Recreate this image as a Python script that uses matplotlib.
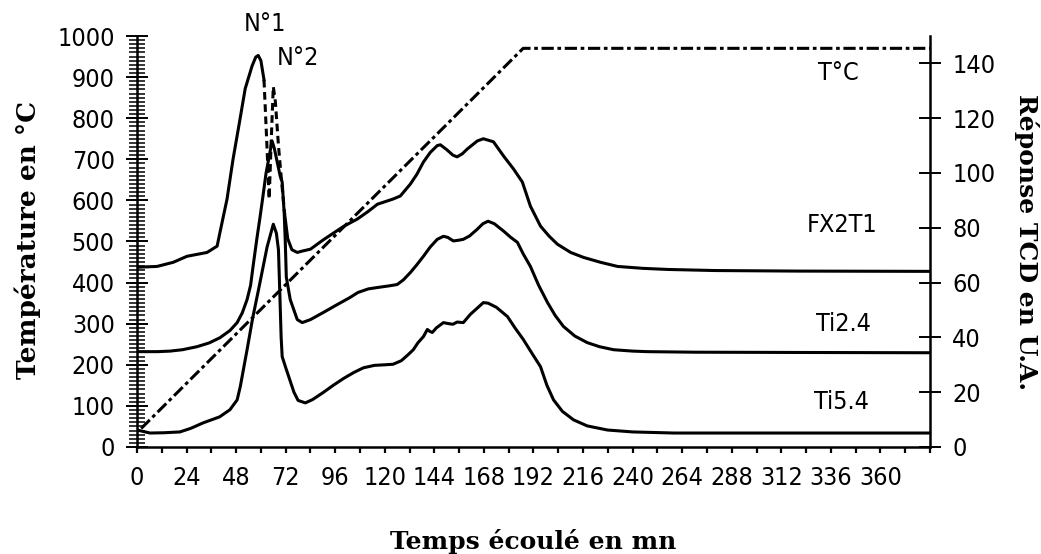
import matplotlib
matplotlib.use('Agg')
import matplotlib.pyplot as plt
from matplotlib.ticker import MultipleLocator
import numpy as np

plt.rcParams['font.family'] = ['DejaVu Sans']
plt.rcParams['font.stretch'] = 'condensed'

# ---------------- data ----------------
time_ticks = list(range(0, 361, 24))
left_ticks = list(range(0, 1001, 100))
right_ticks = list(range(0, 141, 20))

# temperature programme (left axis, °C)
temp_time = [2, 187, 384]
temp_val = [45, 970, 970]

# TCD responses (right axis, U.A.)
fx_t = [0, 9.7, 17.5, 24.2, 33.9, 38.8, 40.2, 43.6, 46.5, 49.5, 52.4, 55.7, 57.5, 58.7,
        60, 61.5, 62.8, 64, 65, 66, 67, 68.5, 70, 71.5, 73, 75, 77.6, 80, 84, 90, 94,
        100, 106.7, 112, 116.4, 120, 124, 127.5, 132.4, 135.5, 138.7, 142, 145.4,
        146.9, 150, 153, 155, 157.5, 160, 164.8, 167.7, 172.6, 177.5, 182.3, 186.6,
        190.5, 195.4, 199.5, 203.6, 210, 216.2, 224.5, 232.7, 245, 257, 280, 320, 384]
fx_v = [65.6, 65.9, 67.4, 69.6, 71.0, 73.3, 78.4, 90.5, 105, 118, 130.8, 139, 142.3, 142.9,
        141, 134, 112, 90.5, 112, 131.5, 126, 110, 97, 85, 76, 72, 71, 71.5, 72.2, 75.5, 77.5,
        80.5, 83.2, 86, 88.6, 89.5, 90.5, 91.6, 96, 99.5, 104, 107.5, 110,
        110.3, 108.5, 106.5, 105.9, 107, 108.8, 111.7, 112.5, 111.4, 106.2, 101.5, 96.7,
        87.9, 80.6, 77, 74, 71, 69.2, 67.4, 65.9, 65.2, 64.8, 64.4, 64.2, 64.1]

ti24_t = [0, 10, 16, 22, 29, 35, 40.2, 45, 48.5, 51, 53.3, 55, 56.2, 58, 59.6, 61, 62.5,
          64, 65.4, 66.5, 67.9, 69.3, 70.3, 71.3, 71.8, 72.3, 74.2, 77.6, 80, 84, 90, 97,
          103, 107, 112, 116.4, 122, 126, 129, 132.4, 135.5, 138.7, 142, 145.4, 148.4,
          150.5, 153.2, 156, 158, 161, 164.8, 167.5, 170, 173, 177.5, 181, 184.2, 187,
          190.5, 194.5, 198.8, 202.5, 206.5, 212, 218, 224, 230.8, 240, 247, 270, 320, 384]
ti24_v = [34.8, 34.8, 35.0, 35.5, 36.6, 38.0, 39.9, 42.5, 45.4, 49.0, 53.8, 59.0, 65.9, 75.8,
          84.0, 91.6, 100, 106, 111.7, 109, 104, 99, 96.7, 85, 75, 62, 53.8, 46.5, 45.4, 46.5,
          49.0, 52.0, 54.5, 56.4, 57.7, 58.2, 58.8, 59.3, 61.0, 63.7, 66.5, 69.6, 73.0, 75.8,
          76.9, 76.5, 75.2, 75.5, 75.8, 77.0, 79.5, 81.5, 82.4, 81.5, 78.8, 76.5, 74.7, 70.5,
          65.9, 59.0, 52.7, 48.0, 44.0, 40.5, 38.1, 36.6, 35.5, 35.0, 34.8, 34.6, 34.5, 34.4]

ti54_t = [0, 6.3, 13, 20.8, 26, 32, 40, 45, 48.5, 50, 53.3, 56, 59, 63, 66, 67.5, 68.5,
          69.2, 69.8, 70.3, 72, 74, 76, 78, 81.5, 85, 90, 95, 100, 105, 109.6, 115, 120,
          124, 128, 131, 133.8, 136, 138.7, 140.6, 141.8, 143, 145, 148.4, 151, 153, 155,
          158, 161.4, 164.5, 167.7, 170, 174, 179.4, 183, 187.1, 191, 195.4, 198.5, 201.7,
          206, 211.4, 218, 227.8, 240, 260, 384]
ti54_v = [6.2, 5.1, 5.2, 5.5, 6.8, 8.8, 11.0, 13.6, 17.2, 22.0, 35.5, 47.0, 58.0, 73.0, 81.3,
          78.0, 72.0, 55.0, 40.0, 33.0, 29.0, 24.5, 20.0, 17.0, 16.1, 17.3, 19.8, 22.5, 25.0,
          27.2, 28.9, 29.8, 30.0, 30.2, 31.5, 33.5, 35.5, 38.0, 40.3, 42.9, 42.2, 41.8, 43.5,
          45.4, 45.0, 44.8, 45.6, 45.4, 48.4, 50.5, 52.7, 52.5, 51.0, 47.6, 43.5, 39.2, 34.5,
          29.3, 22.5, 17.2, 13.0, 9.9, 7.7, 6.2, 5.5, 5.1, 5.1]

curve_labels = ['T°C', 'FX2T1', 'Ti2.4', 'Ti5.4']
peak_labels = ['N°1', 'N°2']

# ---------------- figure ----------------
W, H = 1041, 554
fig = plt.figure(figsize=(W / 100, H / 100), dpi=100)
x0, x1, y0, y1 = 137, 930, 447, 36
ax = fig.add_axes([x0 / W, 1 - y0 / H, (x1 - x0) / W, (y0 - y1) / H])
ax2 = ax.twinx()

ax.set_xlim(0, 384)
ax.set_ylim(0, 1000)
ax2.set_ylim(0, 150)

# temperature line
ax.plot(temp_time, temp_val, color='black', lw=2.2,
        linestyle=(0, (4, 1.2, 1.2, 1.2)), zorder=3)

# TCD curves
lw = 2.2
fx_t_a = np.array(fx_t)
fx_v_a = np.array(fx_v)
m1 = fx_t_a <= 61.5
m2 = (fx_t_a >= 61.5) & (fx_t_a <= 71.5)
m3 = fx_t_a >= 71.5
ax2.plot(fx_t_a[m1], fx_v_a[m1], color='black', lw=lw)
ax2.plot(fx_t_a[m2], fx_v_a[m2], color='black', lw=lw, linestyle=(0, (2.5, 1.5)))
ax2.plot(fx_t_a[m3], fx_v_a[m3], color='black', lw=lw)
ax2.plot(ti24_t, ti24_v, color='black', lw=lw)
ax2.plot(ti54_t, ti54_v, color='black', lw=lw)

# spines
for a in (ax, ax2):
    a.spines['top'].set_visible(False)
    for s in a.spines.values():
        s.set_linewidth(1.8)
ax.spines['right'].set_visible(False)
ax2.spines['left'].set_visible(False)
ax2.spines['bottom'].set_visible(False)

# ticks
tick_fs = 18
ax.set_yticks(left_ticks)
ax.set_yticklabels([str(v) for v in left_ticks])
ax.yaxis.set_minor_locator(MultipleLocator(10))
ax.tick_params(axis='y', which='major', direction='inout', length=16, width=1.4,
               labelsize=tick_fs, pad=8)
ax.tick_params(axis='y', which='minor', direction='inout', length=12, width=1.1)

ax.set_xticks(time_ticks)
ax.set_xticklabels([str(v) for v in time_ticks])
ax.xaxis.set_minor_locator(MultipleLocator(12))
ax.tick_params(axis='x', which='both', direction='out', length=4, width=1.6,
               labelsize=tick_fs, pad=10)

ax2.set_yticks(right_ticks)
ax2.set_yticklabels([str(v) for v in right_ticks])
ax2.tick_params(axis='y', which='major', direction='inout', length=16, width=1.4,
                labelsize=tick_fs, pad=8)

# axis titles
title_kw = dict(family='DejaVu Serif', weight='bold', stretch='normal')
fig.text(28 / W, 1 - 240 / H, 'Température en °C', rotation=90,
         ha='center', va='center', fontsize=19, **title_kw)
fig.text(1027 / W, 1 - 242 / H, 'Réponse TCD en U.A.', rotation=270,
         ha='center', va='center', fontsize=18, **title_kw)
fig.text(533 / W, 1 - 541 / H, 'Temps écoulé en mn',
         ha='center', va='center', fontsize=18, **title_kw)

# curve labels
lab_pos = [(838, 73), (842, 225), (843, 324), (842, 402)]
for txt, (px, py) in zip(curve_labels, lab_pos):
    fig.text(px / W, 1 - py / H, txt, ha='center', va='center', fontsize=18)
peak_pos = [(265, 24), (298, 58)]
for txt, (px, py) in zip(peak_labels, peak_pos):
    fig.text(px / W, 1 - py / H, txt, ha='center', va='center', fontsize=18)

fig.savefig('out.png', dpi=100)
